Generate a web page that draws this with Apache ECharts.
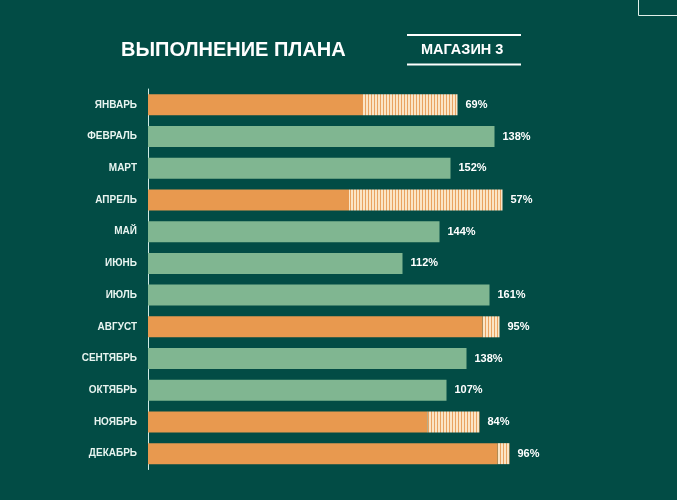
<!DOCTYPE html>
<html><head><meta charset="utf-8">
<script src="https://cdn.jsdelivr.net/npm/echarts@6/dist/echarts.min.js"></script>
<style>html,body{margin:0;padding:0;background:#024c45;}#c{width:677px;height:500px;}</style>
</head><body><div id="c"></div>
<script>
const months = ['ЯНВАРЬ','ФЕВРАЛЬ','МАРТ','АПРЕЛЬ','МАЙ','ИЮНЬ','ИЮЛЬ','АВГУСТ','СЕНТЯБРЬ','ОКТЯБРЬ','НОЯБРЬ','ДЕКАБРЬ'];
const fact = [215, 346.5, 302.5, 201, 291.5, 254.5, 341.5, 334.5, 318.5, 298.5, 279.5, 349.5];
const plan = [309.5, 251, 199, 354.5, 202, 227, 212, 351.5, 231, 279, 331.5, 361.5];
const pctLabels = [69, 138, 152, 57, 144, 112, 161, 95, 138, 107, 84, 96];

const BG = '#024c45', ORANGE = '#e8994f', GREEN = '#80b691';
// stripe pattern
const pc = document.createElement('canvas'); pc.width = 3; pc.height = 8;
const px = pc.getContext('2d');
px.fillStyle = '#fbe5c6'; px.fillRect(0,0,3,8);
px.fillStyle = '#e9a361'; px.fillRect(2,0,1,8);

const chart = echarts.init(document.getElementById('c'), null, {renderer:'canvas'});
const remainder = fact.map((f,i)=>Math.max(plan[i]-f,0));
const total = fact.map((f,i)=>Math.max(plan[i],f));
chart.setOption({
  backgroundColor: BG,
  animation: false,
  grid: {left:148, top:89, bottom:30.5, width:400},
  xAxis: {type:'value', min:0, max:400, show:false},
  yAxis: {type:'category', data:months, inverse:true,
    axisLine:{show:true, lineStyle:{color:'#cfeae4', width:1}},
    axisTick:{show:false},
    axisLabel:{color:'#e8f4f0', fontSize:10, fontWeight:'bold', fontFamily:'Liberation Sans', margin:11}},
  series: [
    {type:'bar', stack:'s', barWidth:21, data: fact.map((f,i)=>({value:f, itemStyle:{color: pctLabels[i] < 100 ? ORANGE : GREEN}})), z:3},
    {type:'bar', stack:'s', barWidth:21, data: remainder, itemStyle:{color:{image:pc, repeat:'repeat'}}, z:3},
    {type:'bar', barWidth:21, barGap:'-100%', data: total, itemStyle:{color:'rgba(0,0,0,0)'}, z:1,
      label:{show:true, position:'right', distance:8, color:'#ffffff', fontSize:11, fontWeight:'bold', fontFamily:'Liberation Sans',
        formatter: p => pctLabels[p.dataIndex] + '%'}}
  ],
  graphic: [
    {type:'text', left:121, top:40, style:{text:'ВЫПОЛНЕНИЕ ПЛАНА', fill:'#ffffff', font:'bold 20px "Liberation Sans"'}},
    {type:'text', left:421, top:42, style:{text:'МАГАЗИН 3', fill:'#ffffff', font:'bold 14.5px "Liberation Sans"'}},
    {type:'line', shape:{x1:407, y1:35, x2:521, y2:35}, style:{stroke:'#ffffff', lineWidth:2}},
    {type:'line', shape:{x1:407, y1:64.5, x2:521, y2:64.5}, style:{stroke:'#ffffff', lineWidth:2}},
    {type:'rect', shape:{x:638.5, y:-2, width:50, height:17.5}, style:{fill:'none', stroke:'#e0efe9', lineWidth:1}}
  ]
});
</script></body></html>
